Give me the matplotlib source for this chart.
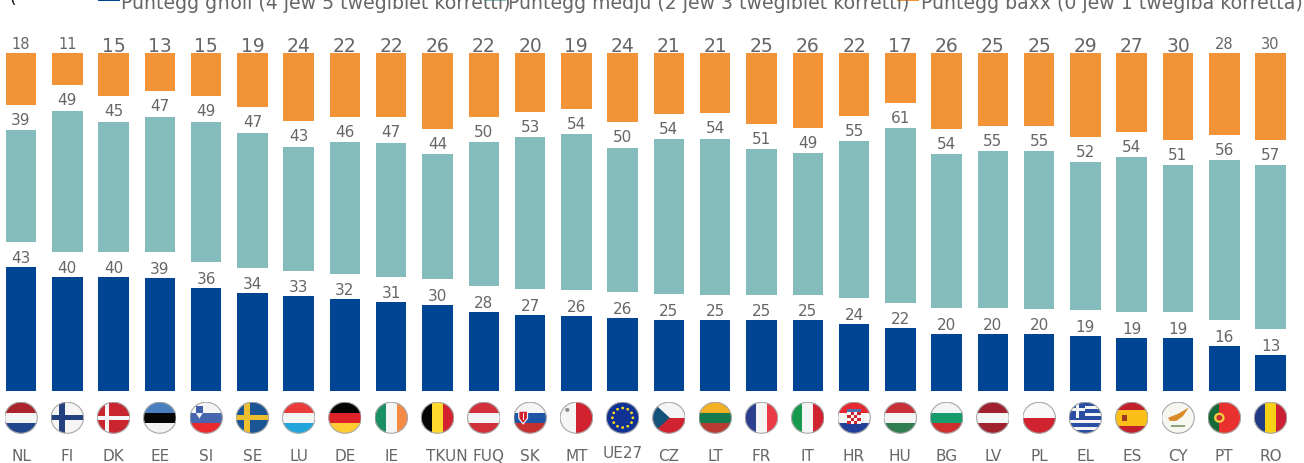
import matplotlib
matplotlib.use('Agg')
import matplotlib.pyplot as plt
from matplotlib.patches import Ellipse, Rectangle, Polygon, Circle

countries = ['NL', 'FI', 'DK', 'EE', 'SI', 'SE', 'LU', 'DE', 'IE', 'TKUN', 'FUQ', 'SK', 'MT', 'UE27',
             'CZ', 'LT', 'FR', 'IT', 'HR', 'HU', 'BG', 'LV', 'PL', 'EL', 'ES', 'CY', 'PT', 'RO']
high = [43.2, 39.7, 39.7, 39.4, 35.9, 34.1, 33.1, 31.9, 31.0, 30.0, 27.6, 26.6, 26.3, 25.6,
        24.9, 24.6, 24.6, 24.6, 23.5, 21.9, 19.9, 19.9, 19.8, 19.2, 18.6, 18.6, 15.8, 12.6]
medium = [38.7, 49.1, 45.3, 47.2, 49.1, 47.0, 43.2, 45.9, 46.6, 43.6, 50.2, 53.0, 54.3, 50.2,
          53.9, 54.4, 50.8, 49.3, 54.7, 60.7, 53.7, 54.7, 54.9, 51.6, 54.0, 51.2, 55.8, 57.1]
low = [18.1, 11.2, 15.0, 13.4, 15.0, 18.9, 23.7, 22.2, 22.4, 26.4, 22.2, 20.4, 19.4, 24.2,
       21.2, 21.0, 24.6, 26.1, 21.8, 17.4, 26.4, 25.4, 25.3, 29.2, 27.4, 30.2, 28.4, 30.3]
legend_labels = ['Punteġġ għoli (4 jew 5 tweġibiet korretti)',
                 'Punteġġ medju (2 jew 3 tweġibiet korretti)',
                 'Punteġġ baxx (0 jew 1 tweġiba korretta)']

NAVY = '#004494'
TEAL = '#84BBBB'
ORANGE = '#F39337'
GREY = '#666666'

# flags: stripes direction, stripe colours
flags = {
    'NL': ('h', ['#A9252B', '#F5F5F5', '#21468B']),
    'FI': ('h', ['#F5F5F5']),
    'DK': ('h', ['#C8252F']),
    'EE': ('h', ['#4A7FBF', '#050505', '#F2F2F2']),
    'SI': ('h', ['#F5F5F5', '#4866AE', '#EB2A2E']),
    'SE': ('h', ['#1C5596']),
    'LU': ('h', ['#EB3B3B', '#F5F5F5', '#22A5DA']),
    'DE': ('h', ['#050505', '#DD2228', '#FFCC33']),
    'IE': ('v', ['#1A9064', '#F5F5F5', '#F58A45']),
    'TKUN': ('v', ['#050505', '#FFD92E', '#D2232E']),
    'FUQ': ('h', ['#D2303A', '#F5F5F5', '#D2303A']),
    'SK': ('h', ['#F5F5F5', '#1F55A5', '#C8302F']),
    'MT': ('v', ['#F5F5F5', '#D0222F']),
    'UE27': ('h', ['#0F3294']),
    'CZ': ('h', ['#F5F5F5', '#D0222F']),
    'LT': ('h', ['#F2B023', '#137A4E', '#B93A33']),
    'FR': ('v', ['#2B3F8E', '#F5F5F5', '#EB3A45']),
    'IT': ('v', ['#179A4D', '#F5F5F5', '#D0222F']),
    'HR': ('h', ['#E8272F', '#F5F5F5', '#21409A']),
    'HU': ('h', ['#C8303A', '#F5F5F5', '#2F7D50']),
    'BG': ('h', ['#F5F5F5', '#169B6B', '#CF2E2E']),
    'LV': ('h', ['#A0222F', '#F5F5F5', '#A0222F']),
    'PL': ('h', ['#F8F8F8', '#D0222F']),
    'EL': ('h', ['#2A4EA2', '#F5F5F5', '#2A4EA2', '#F5F5F5', '#2A4EA2', '#F5F5F5', '#2A4EA2', '#F5F5F5', '#2A4EA2']),
    'ES': ('h', ['#C2202C', '#FBBF1A', '#FBBF1A', '#C2202C']),
    'CY': ('h', ['#F7F7F2']),
    'PT': ('v', ['#146B38', '#E8302E', '#E8302E']),
    'RO': ('v', ['#203A85', '#F7D116', '#CC1F33']),
}


def draw_flag(a, code):
    clip = Ellipse((0, 0), 2, 2, transform=a.transData)
    kind, cols = flags[code]
    n = len(cols)
    arts = []
    for i, c in enumerate(cols):
        if kind == 'h':
            arts.append(a.add_patch(Rectangle((-1, 1 - 2 * (i + 1) / n), 2, 2 / n, color=c, lw=0)))
        else:
            arts.append(a.add_patch(Rectangle((-1 + 2 * i / n, -1), 2 / n, 2, color=c, lw=0)))
    # details on top of the stripes
    def rect(x, y, w, h, c):
        arts.append(a.add_patch(Rectangle((x, y), w, h, color=c, lw=0)))
    def poly(pts, c):
        arts.append(a.add_patch(Polygon(pts, closed=True, color=c, lw=0)))
    def dot(x, y, r, c):
        arts.append(a.add_patch(Circle((x, y), r, color=c, lw=0)))
    if code == 'FI':
        rect(-1, -0.17, 2, 0.34, '#24407E')
        rect(-0.5, -1, 0.34, 2, '#24407E')
    if code == 'DK':
        rect(-1, -0.13, 2, 0.26, '#F5F5F5')
        rect(-0.52, -1, 0.26, 2, '#F5F5F5')
    if code == 'SE':
        rect(-1, -0.17, 2, 0.34, '#EDBE2E')
        rect(-0.5, -1, 0.34, 2, '#EDBE2E')
    if code == 'SI':
        rect(-0.62, 0.22, 0.42, 0.5, '#3F5FAA')
        poly([(-0.62, 0.3), (-0.2, 0.3), (-0.41, -0.05)], '#F2F2F2')
    if code == 'SK':
        poly([(-0.72, 0.45), (-0.12, 0.45), (-0.12, -0.05), (-0.42, -0.45), (-0.72, -0.05)], '#F5F5F5')
        poly([(-0.65, 0.38), (-0.19, 0.38), (-0.19, -0.02), (-0.42, -0.33), (-0.65, -0.02)], '#D0222F')
        rect(-0.45, -0.12, 0.06, 0.4, '#F5F5F5')
        rect(-0.56, 0.08, 0.28, 0.06, '#F5F5F5')
    if code == 'MT':
        dot(-0.55, 0.5, 0.13, '#8C8C8C')
    if code == 'CZ':
        poly([(-1, 1), (0.05, 0), (-1, -1)], '#15527A')
    if code == 'HR':
        rect(-0.4, -0.4, 0.8, 0.9, '#F5F5F5')
        for r in range(4):
            for k in range(4):
                if (r + k) % 2 == 0:
                    rect(-0.4 + k * 0.2, -0.4 + r * 0.2, 0.2, 0.2, '#D0222F')
        rect(-0.42, 0.38, 0.84, 0.2, '#4E6FB0')
    if code == 'EL':
        rect(-1, -0.0, 1.0, 1, '#2A4EA2')
        rect(-1, 0.4, 1.0, 0.2, '#F5F5F5')
        rect(-0.6, 0, 0.2, 1, '#F5F5F5')
    if code == 'ES':
        rect(-0.58, -0.22, 0.3, 0.42, '#9B3A1E')
    if code == 'PT':
        dot(-0.3, 0.0, 0.32, '#F4D03F')
        dot(-0.3, 0.0, 0.18, '#C8302F')
    if code == 'CY':
        poly([(-0.6, 0.0), (0.0, 0.25), (0.65, 0.65), (0.3, 0.1), (-0.1, -0.2), (-0.5, -0.2)], '#DB8A2A')
        rect(-0.45, -0.6, 0.9, 0.12, '#8FA37A')
    if code == 'UE27':
        for dx, dy in [(0, .62), (.31, .54), (.54, .31), (.62, 0), (.54, -.31), (.31, -.54),
                       (0, -.62), (-.31, -.54), (-.54, -.31), (-.62, 0), (-.54, .31), (-.31, .54)]:
            dot(dx, dy, 0.085, '#FFD91A')
    for art in arts:
        art.set_clip_path(clip)
    a.add_patch(Ellipse((0, 0), 1.97, 1.97, fc='none', ec='#A8A8A8', lw=0.8))


W, H = 1304, 464
BASE = 392      # baseline of the bars, in pixels from top
PX_Y = 2.87     # pixels per percentage point
X0, STEP = 21, 46.28
GAP = 25.5 / PX_Y

fig = plt.figure(figsize=(W / 100, H / 100), dpi=100)
plt.rcParams['font.family'] = 'DejaVu Sans'
ax = fig.add_axes([0, 0, 1, 1])
ax.set_xlim(-X0 / STEP, (W - X0) / STEP)
ax.set_ylim((BASE - H) / PX_Y, BASE / PX_Y)
ax.axis('off')

x = list(range(len(countries)))
width = 30.5 / STEP
bottom2 = [h + GAP for h in high]
bottom3 = [h + GAP + m + GAP for h, m in zip(high, medium)]
ax.bar(x, high, width, color=NAVY)
ax.bar(x, medium, width, bottom=bottom2, color=TEAL)
ax.bar(x, low, width, bottom=bottom3, color=ORANGE)

small_top = ['NL', 'FI', 'PT', 'RO']
tick_shift = {'TKUN': 9, 'FUQ': 5}
for i, c in enumerate(countries):
    ax.text(i, high[i] + 5 / PX_Y, '%.0f' % high[i], ha='center', va='baseline', fontsize=11, color=GREY)
    ax.text(i, bottom2[i] + medium[i] + 6.5 / PX_Y, '%.0f' % medium[i], ha='center', va='baseline', fontsize=11, color=GREY)
    if c in small_top:
        ax.text(i, bottom3[i] + low[i] + 5 / PX_Y, '%.0f' % low[i], ha='center', va='baseline', fontsize=10.5, color=GREY)
    else:
        ax.text(i, bottom3[i] + low[i] + 2 / PX_Y, '%.0f' % low[i], ha='center', va='baseline', fontsize=13.5, color=GREY)
    ax.text(i + tick_shift.get(c, 0) / STEP, (BASE - (458 if c == 'UE27' else 461)) / PX_Y, c,
            ha='center', va='baseline', fontsize=11, color=GREY)
    # flags go in their own little axes
    cx = X0 + STEP * i
    a = fig.add_axes([(cx - 16.5) / W, 1 - 434.5 / H, 33 / W, 31.5 / H])
    a.set_xlim(-1, 1)
    a.set_ylim(-1, 1)
    a.axis('off')
    draw_flag(a, c)

# legend sits half outside the picture, as in the original
for lx, sx, col, lab in zip([121, 508, 921], [98, 484, 897], [NAVY, TEAL, ORANGE], legend_labels):
    ax.add_patch(Rectangle(((sx - X0) / STEP, (BASE - 1.5) / PX_Y), 22 / STEP, 2 / PX_Y, color=col, lw=0))
    ax.text((lx - X0) / STEP, (BASE - 9) / PX_Y, lab, ha='left', va='baseline', fontsize=13.6, color=GREY)
ax.text((10 - X0) / STEP, (BASE - 3) / PX_Y, '(', ha='left', va='baseline', fontsize=12, color='black')

fig.savefig('out.png', dpi=100)
